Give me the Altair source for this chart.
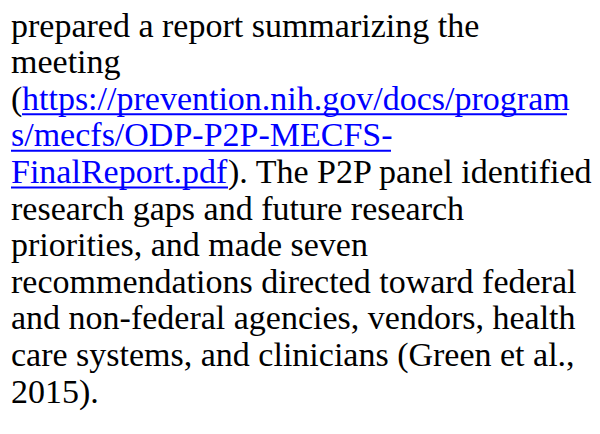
import altair as alt
import pandas as pd

# Text content: one entry per segment (line index, text, style)
seg_line = [0, 1, 2, 2, 3, 4, 4, 5, 6, 7, 8, 9, 10]
seg_text = [
    "prepared a report summarizing the",
    "meeting",
    "(",
    "https://prevention.nih.gov/docs/program",
    "s/mecfs/ODP-P2P-MECFS-",
    "FinalReport.pdf",
    "). The P2P panel identified",
    "research gaps and future research",
    "priorities, and made seven",
    "recommendations directed toward federal",
    "and non-federal agencies, vendors, health",
    "care systems, and clinicians (Green et al.,",
    "2015).",
]
seg_kind = ["text", "text", "text", "link", "link", "link", "text",
            "text", "text", "text", "text", "text", "text"]
# horizontal start of each segment (layout, in px from the left of the view)
seg_x = [3, 3, 3, 14, 3, 3, 220, 3, 3, 3, 3, 3, 3]

# underline spans of link segments (layout)
ul_line = [2, 3, 4]
ul_x0 = [14, 3, 3]
ul_x1 = [559, 383, 220]

W, H = 584, 418
LINE = 36.6
FIRST = 28.5  # baseline of first line, in view px

segs = pd.DataFrame({"line": seg_line, "text": seg_text, "kind": seg_kind, "x": seg_x})
ul = pd.DataFrame({"line": ul_line, "x0": ul_x0, "x1": ul_x1})
ul["uline"] = ul["line"] + 4.5 / LINE

x_scale = alt.Scale(domain=[0, W], range=[0, W])
y_dom0 = -FIRST / LINE
y_scale = alt.Scale(domain=[y_dom0, y_dom0 + H / LINE], range=[0, H])

text = alt.Chart(segs).mark_text(
    align="left", baseline="alphabetic", font="Liberation Serif", fontSize=34
).encode(
    x=alt.X("x:Q", scale=x_scale, axis=None),
    y=alt.Y("line:Q", scale=y_scale, axis=None),
    text="text:N",
    color=alt.Color("kind:N", scale=alt.Scale(domain=["text", "link"], range=["#000000", "#0000ff"]), legend=None),
)

under = alt.Chart(ul).mark_rule(color="#0000ff", strokeWidth=2).encode(
    x=alt.X("x0:Q", scale=x_scale, axis=None),
    x2="x1:Q",
    y=alt.Y("uline:Q", scale=y_scale, axis=None),
)

chart = alt.layer(text, under).properties(
    width=W, height=H, padding=0, autosize=alt.AutoSizeParams(type="none")
).configure_view(strokeOpacity=0, strokeWidth=0)

chart.save("out.html", embed_options={"renderer": "svg", "actions": False})
